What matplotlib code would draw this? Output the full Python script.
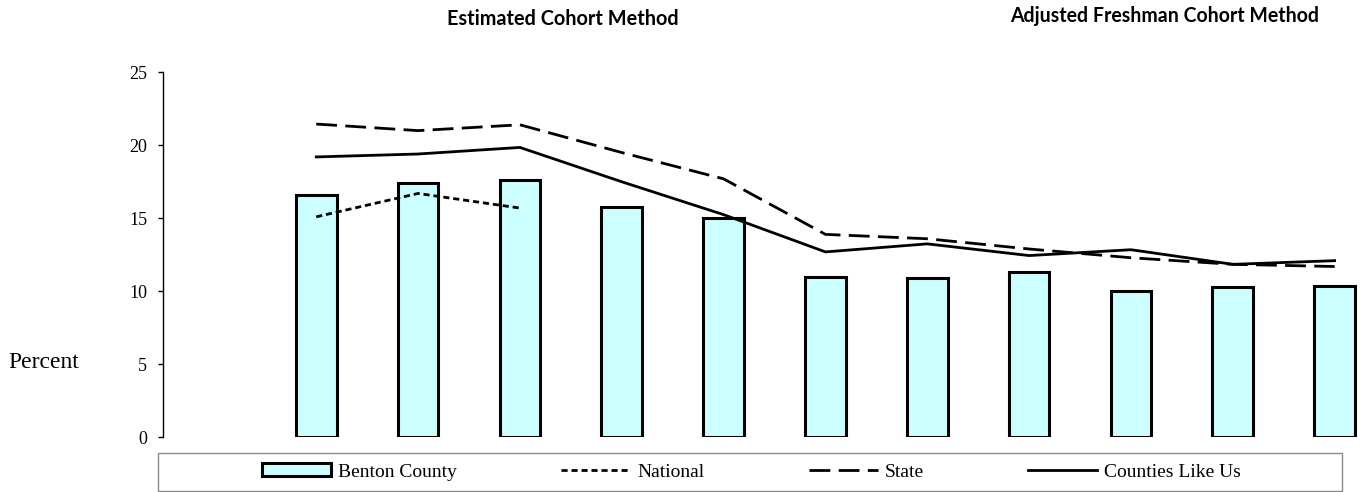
import matplotlib
matplotlib.use('Agg')
import matplotlib.pyplot as plt
import numpy as np
from matplotlib.patches import Rectangle

# 12 category slots, the first one is empty
slots = np.arange(12)

benton = [np.nan, 16.6, 17.4, 17.6, 15.8, 15.0, 11.0, 10.9, 11.3, 10.0, 10.3, 10.4]
national = [np.nan, 15.1, 16.7, 15.7, np.nan, np.nan, np.nan, np.nan, np.nan, np.nan, np.nan, np.nan]
state = [np.nan, 21.45, 21.0, 21.4, 19.5, 17.7, 13.9, 13.6, 12.9, 12.3, 11.85, 11.7]
counties = [np.nan, 19.2, 19.4, 19.85, 17.5, 15.25, 12.7, 13.25, 12.45, 12.85, 11.85, 12.1]

yticks = [0, 5, 10, 15, 20, 25]

serif = 'Liberation Serif'
W, H = 1360, 492


def fit_width(txt, width_px, renderer):
    # scale the font so the text takes the wanted width in pixels
    w = txt.get_window_extent(renderer).width
    txt.set_fontsize(txt.get_fontsize() * width_px / w)


fig = plt.figure(figsize=(13.6, 4.92), dpi=100)
ax = fig.add_axes([0.1202, 0.1108, 0.8986, 0.7425])

ax.bar(slots, benton, width=0.40, color='#CCFFFF', edgecolor='black',
       linewidth=2.2, label='Benton County', zorder=2)
ax.plot(slots, national, color='black', linewidth=2.0, dashes=(2.2, 1.4),
        label='National', zorder=3)
ax.plot(slots, state, color='black', linewidth=2.0, dashes=(7.5, 3),
        label='State', zorder=3)
ax.plot(slots, counties, color='black', linewidth=2.0,
        label='Counties Like Us', zorder=3)

ax.set_xlim(-0.5, 11.5)
ax.set_ylim(0, 25)
ax.set_yticks(yticks)
ax.set_yticklabels([str(t) for t in yticks], fontfamily=serif, fontsize=13)
ax.set_xticks([])
for side in ['top', 'right', 'bottom']:
    ax.spines[side].set_visible(False)
ax.spines['left'].set_linewidth(1.0)
ax.tick_params(axis='y', direction='out', length=3.6, width=1.0, pad=8)

t_pct = fig.text(8 / W, 1 - 362 / H, 'Percent', fontfamily=serif,
                 fontsize=17, ha='left', va='center')
t_est = fig.text(447 / W, 1 - 25 / H, 'Estimated Cohort Method',
                 fontfamily='Lato', fontweight='bold', fontsize=14,
                 ha='left', va='baseline')
t_adj = fig.text(1010 / W, 1 - 22 / H, 'Adjusted Freshman Cohort Method',
                 fontfamily='Lato', fontweight='bold', fontsize=14,
                 ha='left', va='baseline')

renderer = fig.canvas.get_renderer()
fit_width(t_est, 232, renderer)
fit_width(t_adj, 311, renderer)

# legend box
fig.patches.append(Rectangle((158 / W, 1 / H), 1184 / W, 38 / H,
                             transform=fig.transFigure, facecolor='white',
                             edgecolor='#8a8a8a', linewidth=1.0))
handles, labels = ax.get_legend_handles_labels()
order = [3, 0, 1, 2]
fig.legend([handles[i] for i in order], [labels[i] for i in order],
           loc='center', bbox_to_anchor=(751.5 / W, 1 - 472 / H),
           ncol=4, frameon=False, handlelength=3.55, handleheight=0.6,
           columnspacing=5.35, handletextpad=0.36, borderpad=0.2,
           prop={'family': serif, 'size': 14})

fig.savefig('out.png', dpi=100)
